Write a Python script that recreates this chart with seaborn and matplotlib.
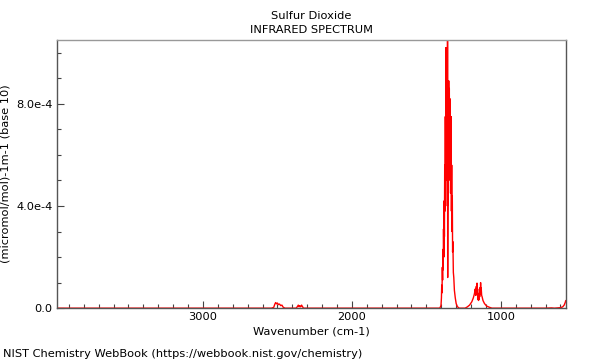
import seaborn as sns
import matplotlib.pyplot as plt
import matplotlib.ticker as mticker
import pandas as pd

# wavenumber (cm-1) and absorbance (units of 1e-4)
wavenumber = [
    3980, 2540, 2525, 2518, 2512, 2506, 2500, 2494, 2486, 2478, 2470, 2462, 2450,
    2375, 2366, 2360, 2355, 2350, 2344, 2338, 2332, 2325,
    1410, 1402, 1399, 1397, 1395, 1393, 1391, 1389, 1387, 1385, 1383, 1381, 1379,
    1377, 1375, 1373, 1371, 1369, 1367, 1365, 1363, 1361, 1359, 1358, 1357, 1356,
    1354, 1352, 1350, 1348, 1346, 1344, 1342, 1340, 1338, 1336, 1334, 1332, 1330,
    1328, 1326, 1324, 1322, 1319, 1316, 1312, 1306, 1300, 1292, 1280,
    1240, 1225, 1210, 1195, 1185, 1178, 1172, 1168, 1165, 1162, 1160, 1158, 1156,
    1154, 1152, 1150, 1148, 1146, 1144, 1142, 1140, 1138, 1136, 1134, 1132, 1129,
    1126, 1120, 1110, 1095, 1075, 1060,
    700, 660, 640, 600, 585, 575, 568, 564,
]
absorbance = [
    0.0, 0.0, 0.03, 0.15, 0.22, 0.17, 0.2, 0.14, 0.16, 0.1, 0.12, 0.04, 0.0,
    0.0, 0.06, 0.12, 0.05, 0.1, 0.05, 0.12, 0.06, 0.0,
    0.0, 0.1, 0.4, 0.9, 0.6, 1.6, 1.1, 2.3, 1.5, 3.1, 2.0, 4.2, 2.8,
    5.6, 3.8, 7.5, 5.0, 10.2, 6.5, 9.8, 7.0, 10.0, 4.0, 10.6, 1.2, 3.5,
    6.5, 4.5, 8.9, 6.0, 8.6, 5.8, 8.2, 5.0, 7.2, 4.5, 7.5, 3.8, 5.6,
    3.0, 4.4, 2.2, 2.6, 1.4, 1.2, 0.7, 0.4, 0.18, 0.06, 0.0,
    0.0, 0.05, 0.12, 0.25, 0.4, 0.55, 0.75, 0.5, 0.85, 0.6, 0.98, 0.55, 0.75,
    0.35, 0.55, 0.3, 0.5, 0.35, 0.6, 0.45, 0.8, 0.55, 1.0, 0.6, 0.8, 0.5,
    0.45, 0.3, 0.18, 0.08, 0.03, 0.0,
    0.0, 0.01, 0.0, 0.02, 0.05, 0.12, 0.22, 0.3,
]

df = pd.DataFrame({"wavenumber": wavenumber, "absorbance": [a * 1e-4 for a in absorbance]})

sns.set_style("white")
fig = plt.figure(figsize=(6, 3.6), dpi=100)
ax = fig.add_axes([0.095, 0.144, 0.848, 0.745])

sns.lineplot(data=df, x="wavenumber", y="absorbance", sort=False,
             color="red", linewidth=1.0, ax=ax)

ax.set_xlim(3980, 564)
ax.set_ylim(0, 1.05e-3)
ax.xaxis.set_major_locator(mticker.FixedLocator([3000, 2000, 1000]))
ax.xaxis.set_minor_locator(mticker.MultipleLocator(100))
ax.yaxis.set_major_locator(mticker.FixedLocator([0, 4e-4, 8e-4]))
ax.yaxis.set_minor_locator(mticker.MultipleLocator(1e-4))


def yfmt(v, pos):
    if v == 0:
        return "0.0"
    m, e = f"{v:.1e}".split("e")
    return f"{m}e{int(e)}"


fs = 8.2
ax.yaxis.set_major_formatter(mticker.FuncFormatter(yfmt))
ax.tick_params(which="both", direction="in", color="#444444", width=0.8,
               labelsize=fs, labelcolor="black",
               top=False, right=False, bottom=True, left=True)
ax.tick_params(which="major", length=5, pad=3)
ax.tick_params(which="minor", length=3)

for side in ["left", "right", "bottom"]:
    ax.spines[side].set_color("#555555")
ax.spines["top"].set_color("#999999")
for s in ax.spines.values():
    s.set_linewidth(1.0)

ax.set_xlabel("Wavenumber (cm-1)", fontsize=fs, labelpad=3, color="black")
ax.set_ylabel("(micromol/mol)-1m-1 (base 10)", fontsize=fs, color="black")
ax.yaxis.set_label_coords(-0.092, 0.5)
ax.set_title("Sulfur Dioxide\nINFRARED SPECTRUM", fontsize=fs, pad=5,
             linespacing=1.55, color="black")

fig.text(0.005, 0.003, "NIST Chemistry WebBook (https://webbook.nist.gov/chemistry)",
         fontsize=fs, ha="left", va="bottom", color="black")

fig.savefig("out.png", dpi=100)
